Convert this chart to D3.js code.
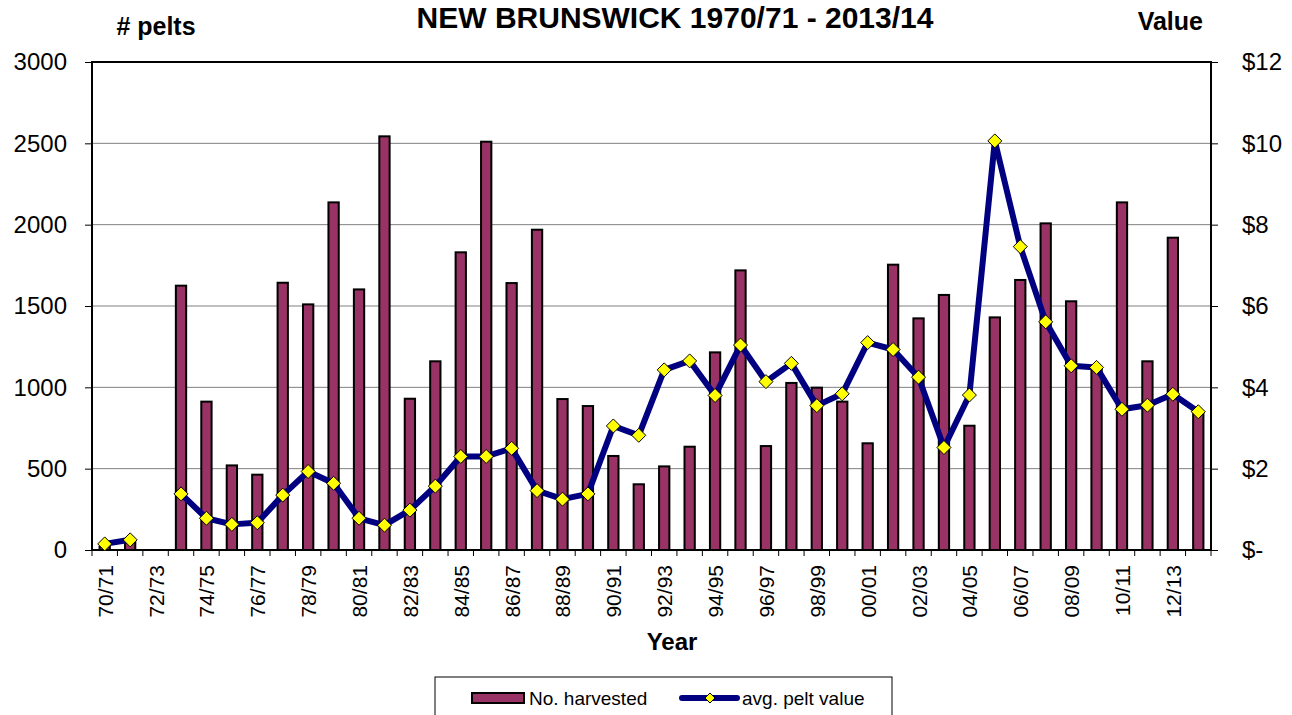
<!DOCTYPE html>
<html>
<head>
<meta charset="utf-8">
<script src="https://cdn.jsdelivr.net/npm/d3@7"></script>
<style>
  body { margin: 0; background: #fff; }
  svg { display: block; font-family: Arial, "Liberation Sans", sans-serif; }
</style>
</head>
<body>
<script>
// seasons 70/71 .. 13/14
const seasons = ['70/71','71/72','72/73','73/74','74/75','75/76','76/77','77/78','78/79','79/80',
  '80/81','81/82','82/83','83/84','84/85','85/86','86/87','87/88','88/89','89/90',
  '90/91','91/92','92/93','93/94','94/95','95/96','96/97','97/98','98/99','99/00',
  '00/01','01/02','02/03','03/04','04/05','05/06','06/07','07/08','08/09','09/10',
  '10/11','11/12','12/13','13/14']

const harvested = [20, 60, 0, 1625, 912, 520, 463, 1643, 1510, 2137,
  1602, 2543, 930, 1160, 1830, 2510, 1641, 1969, 928, 885,
  578, 404, 514, 635, 1215, 1719, 639, 1027, 998, 912,
  656, 1754, 1424, 1568, 764, 1430, 1660, 2008, 1529, 1120,
  2137, 1160, 1920, 840]

const peltValue = [0.15, 0.25, null, 1.38, 0.78, 0.63, 0.67, 1.35, 1.93, 1.64,
  0.78, 0.61, 0.98, 1.57, 2.30, 2.30, 2.50, 1.46, 1.25, 1.38,
  3.05, 2.82, 4.43, 4.65, 3.80, 5.04, 4.14, 4.59, 3.55, 3.84,
  5.10, 4.93, 4.25, 2.52, 3.81, 10.06, 7.46, 5.61, 4.53, 4.49,
  3.46, 3.56, 3.83, 3.40]

const leftTicks = [0, 500, 1000, 1500, 2000, 2500, 3000]
const rightTicks = [0, 2, 4, 6, 8, 10, 12]
const rightLabels = ['$-', '$2', '$4', '$6', '$8', '$10', '$12']

const W = 1292, H = 715
const plotL = 92, plotR = 1211, plotT = 62, plotB = 550

const svg = d3.select('body').append('svg').attr('width', W).attr('height', H)

const x = d3.scaleBand().domain(seasons).range([plotL, plotR])
const yL = d3.scaleLinear().domain([0, 3000]).range([plotB, plotT])
const yR = d3.scaleLinear().domain([0, 12]).range([plotB, plotT])
const bw = x.bandwidth()
const barW = bw * 0.405

// gridlines
svg.append('g').selectAll('line')
	.data(leftTicks.filter((d) => d > 0 && d < 3000))
	.enter().append('line')
		.attr('x1', plotL).attr('x2', plotR)
		.attr('y1', (d) => yL(d)).attr('y2', (d) => yL(d))
		.attr('stroke', '#808080').attr('stroke-width', 1)

// bars
svg.append('g').selectAll('rect')
	.data(seasons.map((s, i) => ({ s: s, v: harvested[i] })).filter((d) => d.v > 0))
	.enter().append('rect')
		.attr('x', (d) => x(d.s) + (bw - barW) / 2)
		.attr('y', (d) => yL(d.v))
		.attr('width', barW)
		.attr('height', (d) => plotB - yL(d.v))
		.attr('fill', '#993366')
		.attr('stroke', '#000').attr('stroke-width', 2)

// frame
svg.append('rect')
	.attr('x', plotL).attr('y', plotT)
	.attr('width', plotR - plotL).attr('height', plotB - plotT)
	.attr('fill', 'none').attr('stroke', '#000').attr('stroke-width', 2)

// left axis
const gl = svg.append('g').attr('transform', 'translate(' + plotL + ',0)')
	.call(d3.axisLeft(yL).tickValues(leftTicks).tickSize(7).tickSizeOuter(0).tickPadding(18)
		.tickFormat((d) => String(d)))
gl.select('.domain').remove()
gl.selectAll('text').attr('font-size', 24).attr('fill', '#000').style('font-family', 'Arial, "Liberation Sans", sans-serif')
gl.selectAll('line').attr('stroke', '#000')

// right axis
const gr = svg.append('g').attr('transform', 'translate(' + plotR + ',0)')
	.call(d3.axisRight(yR).tickValues(rightTicks).tickSize(7).tickSizeOuter(0).tickPadding(24)
		.tickFormat((d, i) => rightLabels[i]))
gr.select('.domain').remove()
gr.selectAll('text').attr('font-size', 24).attr('fill', '#000').style('font-family', 'Arial, "Liberation Sans", sans-serif')
gr.selectAll('line').attr('stroke', '#000')

// x ticks at category boundaries
const step = x.step()
svg.append('g').selectAll('line')
	.data(d3.range(seasons.length + 1))
	.enter().append('line')
		.attr('x1', (i) => plotL + i * step).attr('x2', (i) => plotL + i * step)
		.attr('y1', plotB).attr('y2', plotB + 6)
		.attr('stroke', '#000').attr('stroke-width', 1)

// x labels, every other season
svg.append('g').selectAll('text')
	.data(seasons.filter((s, i) => i % 2 === 0))
	.enter().append('text')
		.attr('transform', (d) => 'translate(' + (x(d) + bw / 2 + 8) + ',565) rotate(-90)')
		.attr('text-anchor', 'end')
		.attr('font-size', 21)
		.text((d) => d)

// line + markers
const pts = seasons.map((s, i) => ({ s: s, v: peltValue[i] }))
const line = d3.line()
	.defined((d) => d.v !== null)
	.x((d) => x(d.s) + bw / 2)
	.y((d) => yR(d.v))

svg.append('path')
	.datum(pts)
	.attr('d', line)
	.attr('fill', 'none')
	.attr('stroke', '#000080')
	.attr('stroke-width', 6)
	.attr('stroke-linejoin', 'round')

const diamond = (cx, cy, r) => 'M' + cx + ',' + (cy - r) + 'L' + (cx + r) + ',' + cy + 'L' + cx + ',' + (cy + r) + 'L' + (cx - r) + ',' + cy + 'Z'

svg.append('g').selectAll('path')
	.data(pts.filter((d) => d.v !== null))
	.enter().append('path')
		.attr('d', (d) => diamond(x(d.s) + bw / 2, yR(d.v), 7))
		.attr('fill', '#ffff00')
		.attr('stroke', '#000').attr('stroke-width', 1)

// titles
svg.append('text').attr('x', 675).attr('y', 28).attr('text-anchor', 'middle')
	.attr('font-size', 30).attr('font-weight', 'bold').text('NEW BRUNSWICK 1970/71 - 2013/14')
svg.append('text').attr('x', 156).attr('y', 35).attr('text-anchor', 'middle')
	.attr('font-size', 25).attr('font-weight', 'bold').text('# pelts')
svg.append('text').attr('x', 1203).attr('y', 30).attr('text-anchor', 'end')
	.attr('font-size', 25).attr('font-weight', 'bold').text('Value')
svg.append('text').attr('x', 672).attr('y', 650).attr('text-anchor', 'middle')
	.attr('font-size', 24).attr('font-weight', 'bold').text('Year')

// legend
const lg = svg.append('g')
lg.append('rect').attr('x', 435).attr('y', 677).attr('width', 457).attr('height', 60)
	.attr('fill', '#fff').attr('stroke', '#000').attr('stroke-width', 1)
lg.append('rect').attr('x', 472).attr('y', 693).attr('width', 52).attr('height', 10)
	.attr('fill', '#993366').attr('stroke', '#000').attr('stroke-width', 2)
lg.append('text').attr('x', 529).attr('y', 705).attr('font-size', 19).text('No. harvested')
lg.append('line').attr('x1', 682).attr('x2', 737).attr('y1', 698).attr('y2', 698)
	.attr('stroke', '#000080').attr('stroke-width', 6).attr('stroke-linecap', 'round')
lg.append('path').attr('d', diamond(710, 698, 5))
	.attr('fill', '#ffff00').attr('stroke', '#000').attr('stroke-width', 1)
lg.append('text').attr('x', 742).attr('y', 705).attr('font-size', 19).text('avg. pelt value')
</script>
</body>
</html>
